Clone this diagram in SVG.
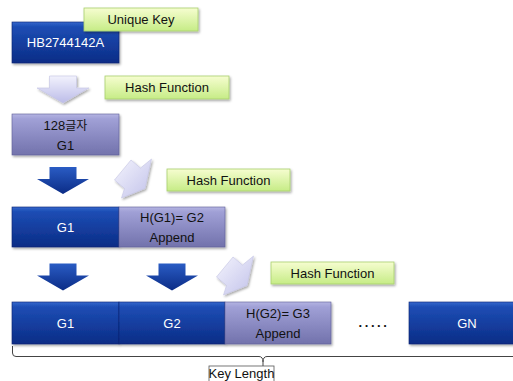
<svg xmlns="http://www.w3.org/2000/svg" width="513" height="381" viewBox="0 0 513 381">
  <defs>
    <linearGradient id="gDark" x1="0" y1="0" x2="0" y2="1">
      <stop offset="0" stop-color="#3467cc"/>
      <stop offset="0.12" stop-color="#1d4db4"/>
      <stop offset="1" stop-color="#0b2c86"/>
    </linearGradient>
    <linearGradient id="gPurple" x1="0" y1="0" x2="0" y2="1">
      <stop offset="0" stop-color="#b4b4e2"/>
      <stop offset="0.12" stop-color="#a0a0d6"/>
      <stop offset="1" stop-color="#7272ac"/>
    </linearGradient>
    <linearGradient id="gGreen" x1="0" y1="0" x2="0" y2="1">
      <stop offset="0" stop-color="#f6fdd0"/>
      <stop offset="1" stop-color="#c6ec86"/>
    </linearGradient>
    <linearGradient id="gLight" x1="0" y1="0" x2="0" y2="1">
      <stop offset="0" stop-color="#f2f2fd"/>
      <stop offset="1" stop-color="#bcbce8"/>
    </linearGradient>
    <linearGradient id="gLightDiag" x1="0" y1="0" x2="1" y2="1">
      <stop offset="0" stop-color="#f4f4fd"/>
      <stop offset="1" stop-color="#c2c2ea"/>
    </linearGradient>
    <linearGradient id="gDarkArrow" x1="0" y1="0" x2="0" y2="1">
      <stop offset="0" stop-color="#2a5cc4"/>
      <stop offset="1" stop-color="#0b2c86"/>
    </linearGradient>
    <filter id="shadow" x="-10%" y="-10%" width="130%" height="140%">
      <feDropShadow dx="1.2" dy="1.6" stdDeviation="1" flood-color="#000" flood-opacity="0.35"/>
    </filter>
    <!-- block arrow pointing down, centred on the origin -->
    <path id="arrow" d="M-13.5,-13.5 H13.5 V-1.5 H26 L0,13.5 L-26,-1.5 H-13.5 Z"/>
    <!-- tilted notched arrow pointing down-left -->
    <path id="tilted" d="M131,160 L140.5,168 L151.5,159 L145,188.5 L121.5,198 L124.5,188.5 L114.5,180 Z"/>
    <style>
      text { font-family: "Liberation Sans", Arial, sans-serif; font-size: 13px; text-anchor: middle; }
      .dark { fill: url(#gDark); stroke: #0a2470; stroke-width: 0.6; filter: url(#shadow); }
      .purple { fill: url(#gPurple); stroke: #5e5e96; stroke-width: 0.6; filter: url(#shadow); }
      .label { fill: url(#gGreen); stroke: #a9cf6e; stroke-width: 0.8; filter: url(#shadow); }
      .w { fill: #ffffff; }
      .k { fill: #111111; }
      .light { fill: url(#gLight); stroke: #c4c4e4; stroke-width: 0.6; filter: url(#shadow); }
      .lightdiag { fill: url(#gLightDiag); stroke: #c4c4e4; stroke-width: 0.6; filter: url(#shadow); }
      .darrow { fill: url(#gDarkArrow); }
    </style>
  </defs>

  <rect width="513" height="381" fill="#ffffff"/>

  <!-- connectors: block arrows and the length brace -->
  <g id="connectors">
    <use href="#arrow" class="light" transform="translate(63,89.5)"/>
    <use href="#arrow" class="darrow" transform="translate(63,180.5)"/>
    <use href="#tilted" class="lightdiag"/>
    <use href="#arrow" class="darrow" transform="translate(63,277)"/>
    <use href="#arrow" class="darrow" transform="translate(172,277)"/>
    <use href="#tilted" class="lightdiag" transform="translate(102,97)"/>
    <path d="M12.5,346 V353 Q12.5,356.5 16,356.5 H259 Q263,356.5 263,362 V366 M263,362 Q263,356.5 267,356.5 H513" fill="none" stroke="#444" stroke-width="1"/>
  </g>

  <!-- row 1 -->
  <g id="node-key">
    <rect class="dark" x="12" y="22" width="107" height="41"/>
    <text class="w" x="65.5" y="47">HB2744142A</text>
  </g>
  <g id="label-unique-key">
    <rect class="label" x="84" y="8" width="114" height="23"/>
    <text class="k" x="141" y="24">Unique Key</text>
  </g>
  <g id="label-hash-1">
    <rect class="label" x="105" y="76" width="124" height="23"/>
    <text class="k" x="167" y="92">Hash Function</text>
  </g>
  <g id="node-128">
    <rect class="purple" x="12" y="114" width="107" height="41"/>
    <text class="k" x="65.5" y="130">128<tspan font-family="'Noto Sans CJK KR', sans-serif" font-size="12">글자</tspan></text>
    <text class="k" x="65.5" y="150">G1</text>
  </g>

  <!-- row 2 -->
  <g id="label-hash-2">
    <rect class="label" x="167" y="169" width="123" height="22"/>
    <text class="k" x="228.5" y="185">Hash Function</text>
  </g>
  <g id="node-r2-g1">
    <rect class="dark" x="12" y="207" width="107" height="40"/>
    <text class="w" x="65.5" y="232">G1</text>
  </g>
  <g id="node-r2-h">
    <rect class="purple" x="119" y="207" width="106" height="40"/>
    <text class="k" x="172" y="222">H(G1)= G2</text>
    <text class="k" x="172" y="242">Append</text>
  </g>

  <!-- row 3 -->
  <g id="label-hash-3">
    <rect class="label" x="271" y="262" width="123" height="22"/>
    <text class="k" x="332.5" y="278">Hash Function</text>
  </g>
  <g id="node-r3-g1">
    <rect class="dark" x="12" y="302" width="107" height="42"/>
    <text class="w" x="65.5" y="328">G1</text>
  </g>
  <g id="node-r3-g2">
    <rect class="dark" x="119" y="302" width="106" height="42"/>
    <text class="w" x="172" y="328">G2</text>
  </g>
  <g id="node-r3-h">
    <rect class="purple" x="225" y="302" width="106" height="42"/>
    <text class="k" x="278" y="318">H(G2)= G3</text>
    <text class="k" x="278" y="338">Append</text>
  </g>
  <g id="ellipsis">
    <text class="k" x="374" y="327" font-size="15" font-weight="bold" letter-spacing="2.6">.....</text>
  </g>
  <g id="node-gn">
    <rect class="dark" x="409" y="302" width="117" height="42"/>
    <text class="w" x="467" y="328">GN</text>
  </g>

  <!-- length caption -->
  <g id="label-key-length">
    <rect x="209" y="366" width="65" height="20" fill="#ffffff" stroke="#555" stroke-width="0.8"/>
    <text class="k" x="241.5" y="378" font-size="11.5">Key Length</text>
  </g>
</svg>
